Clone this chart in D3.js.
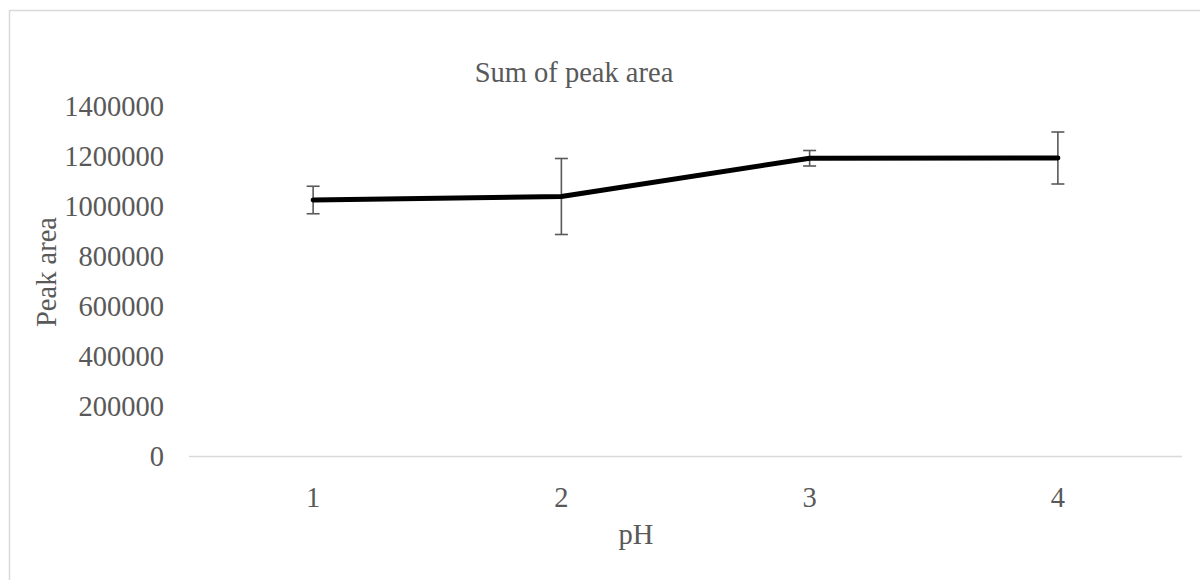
<!DOCTYPE html>
<html>
<head>
<meta charset="utf-8">
<script src="https://cdn.jsdelivr.net/npm/d3@7"></script>
<style>
  body { margin: 0; background: #fff; }
  text { font-family: "Liberation Serif", "Times New Roman", serif; fill: #595959; }
</style>
</head>
<body>
<script>
// chart values
var phLevels = ["1", "2", "3", "4"];
var peakArea = [1026000, 1040000, 1193000, 1194000];
var peakError = [55000, 152000, 31000, 104000];
var yTicks = [0, 200000, 400000, 600000, 800000, 1000000, 1200000, 1400000];

var width = 1200, height = 580;
var plotLeft = 189, plotRight = 1182, plotTop = 106.5, plotBottom = 456.5;

var svg = d3.select("body").append("svg")
    .attr("width", width)
    .attr("height", height);

// outer chart frame (only top/left edges fall inside the window)
svg.append("rect")
    .attr("x", 9.5)
    .attr("y", 10.5)
    .attr("width", width)
    .attr("height", height)
    .style("fill", "none")
    .style("stroke", "#d9d9d9")
    .style("stroke-width", 1.5);

var x = d3.scaleBand()
    .domain(phLevels)
    .range([plotLeft, plotRight]);

var y = d3.scaleLinear()
    .domain([0, 1400000])
    .range([plotBottom, plotTop]);

// y tick labels
svg.append("g")
    .selectAll("text")
    .data(yTicks)
    .enter().append("text")
    .attr("x", 164)
    .attr("y", function (d) { return y(d); })
    .attr("dy", "0.35em")
    .attr("text-anchor", "end")
    .style("font-size", "28.5px")
    .text(function (d) { return d; });

// category axis line
svg.append("line")
    .attr("x1", plotLeft)
    .attr("x2", plotRight)
    .attr("y1", y(0))
    .attr("y2", y(0))
    .style("stroke", "#d9d9d9")
    .style("stroke-width", 1.5);

// x tick labels
svg.append("g")
    .selectAll("text")
    .data(phLevels)
    .enter().append("text")
    .attr("x", function (d) { return x(d) + x.bandwidth() / 2; })
    .attr("y", 507)
    .attr("text-anchor", "middle")
    .style("font-size", "28.5px")
    .text(function (d) { return d; });

// error bars
var errs = svg.append("g")
    .selectAll("g")
    .data(phLevels)
    .enter().append("g")
    .style("stroke", "#595959")
    .style("stroke-width", 1.6);

errs.append("line")
    .attr("x1", function (d) { return x(d) + x.bandwidth() / 2; })
    .attr("x2", function (d) { return x(d) + x.bandwidth() / 2; })
    .attr("y1", function (d, i) { return y(peakArea[i] + peakError[i]); })
    .attr("y2", function (d, i) { return y(peakArea[i] - peakError[i]); });

[1, -1].forEach(function (sgn) {
    errs.append("line")
        .attr("x1", function (d) { return x(d) + x.bandwidth() / 2 - 6.5; })
        .attr("x2", function (d) { return x(d) + x.bandwidth() / 2 + 6.5; })
        .attr("y1", function (d, i) { return y(peakArea[i] + sgn * peakError[i]); })
        .attr("y2", function (d, i) { return y(peakArea[i] + sgn * peakError[i]); });
});

// the series line
var line = d3.line()
    .x(function (d, i) { return x(phLevels[i]) + x.bandwidth() / 2; })
    .y(function (d) { return y(d); });

svg.append("path")
    .datum(peakArea)
    .attr("d", line)
    .style("fill", "none")
    .style("stroke", "#000")
    .style("stroke-width", 5)
    .style("stroke-linecap", "round")
    .style("stroke-linejoin", "round");

// titles
svg.append("text")
    .attr("x", 574)
    .attr("y", 82)
    .attr("text-anchor", "middle")
    .style("font-size", "28.5px")
    .text("Sum of peak area");

svg.append("text")
    .attr("x", 636)
    .attr("y", 544)
    .attr("text-anchor", "middle")
    .style("font-size", "28.5px")
    .text("pH");

svg.append("text")
    .attr("transform", "translate(56,272) rotate(-90)")
    .attr("text-anchor", "middle")
    .style("font-size", "28.5px")
    .text("Peak area");
</script>
</body>
</html>
